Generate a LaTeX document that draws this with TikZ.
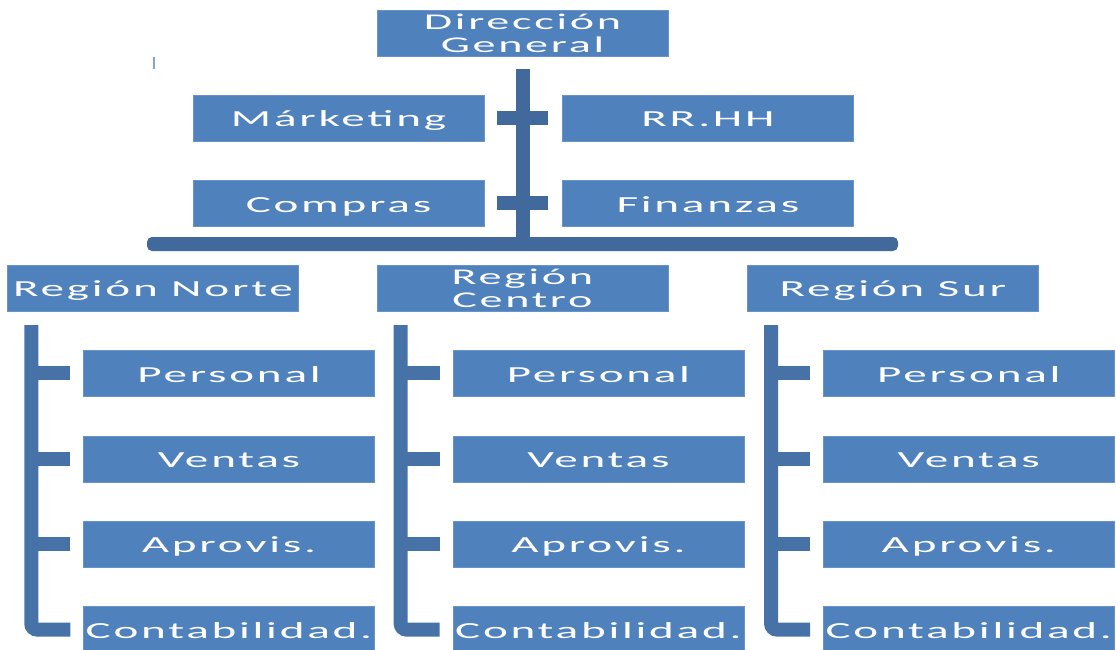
\documentclass[tikz,border=0pt]{standalone}
\usepackage{fontspec}
\setmainfont{Carlito}
\newfontfamily\ancha[FakeStretch=2.05,LetterSpace=12]{Carlito}
\usetikzlibrary{positioning,calc}
\definecolor{azul}{HTML}{4F81BD}
\definecolor{azulosc}{HTML}{41699B}
\definecolor{azulrama}{HTML}{4672A8}
\tikzset{
  caja/.style={fill=azul,draw=azul!85!white,minimum width=291pt,minimum height=46pt,
    inner sep=0pt,align=center,text=white,text height=17.5pt,text depth=0pt,
    font=\ancha\fontsize{23}{26}\selectfont},
  caja2/.style={caja,text height=,text depth=,font=\ancha\fontsize{22.5}{23}\selectfont},
  barra/.style={draw=azulosc,line width=14pt},
  rama/.style={draw=azulrama,line width=14pt,rounded corners=6pt},
}

\begin{document}
\begin{tikzpicture}[x=1pt,y=-1pt]
  \useasboundingbox (0,0) rectangle (1116,649);
  % direccion y departamentos
  \node[caja2] (dir) at (522.5,33.5) {Dirección\\General};
  \node[caja] (mark) at (338.5,118) {Márketing};
  \node[caja] (rrhh) [right=78pt of mark] {RR.HH};
  \node[caja] (comp) [below=39pt of mark] {Compras};
  \node[caja] (fin) [right=78pt of comp] {Finanzas};
  % regiones
  \node[caja] (norte) at (153,288) {Región Norte};
  \node[caja2] (centro) [right=78pt of norte] {Región\\Centro};
  \node[caja] (sur) [right=79pt of centro] {Región Sur};
  % tronco y barra
  \coordinate (tr) at ($(dir.south)+(0,12)$);
  \coordinate (bi) at (147,237);
  \coordinate (bd) at (898,251);
  \fill[azulosc,rounded corners=5pt] (bi) rectangle (bd);
  \draw[barra] (tr) -- ($(tr |- bi)+(0,7)$);
  \draw[barra] ($(mark.east)+(13,0)$) -- ($(rrhh.west)+(-14,0)$);
  \draw[barra] ($(comp.east)+(13,0)$) -- ($(fin.west)+(-14,0)$);
  \draw[azul!70,line width=1.5pt] (154,57) -- (154,69);
  % columnas de cada region
  \foreach \r in {norte,centro,sur}{
    \node[caja,anchor=north west] (\r-1) at ($(\r.south west)+(76,39)$) {Personal};
    \node[caja] (\r-2) [below=39pt of \r-1] {Ventas};
    \node[caja] (\r-3) [below=39pt of \r-2] {Aprovis.};
    \node[caja] (\r-4) [below=39pt of \r-3] {Contabilidad.};
    \coordinate (\r-t) at ($(\r.south west)+(24,14)$);
    \draw[rama] (\r-t) |- ($(\r-4.west)+(-13,0)$);
    \foreach \k in {1,2,3}
      \draw[rama] (\r-t |- \r-\k.west) -- ($(\r-\k.west)+(-13,0)$);
  }
\end{tikzpicture}
\end{document}
